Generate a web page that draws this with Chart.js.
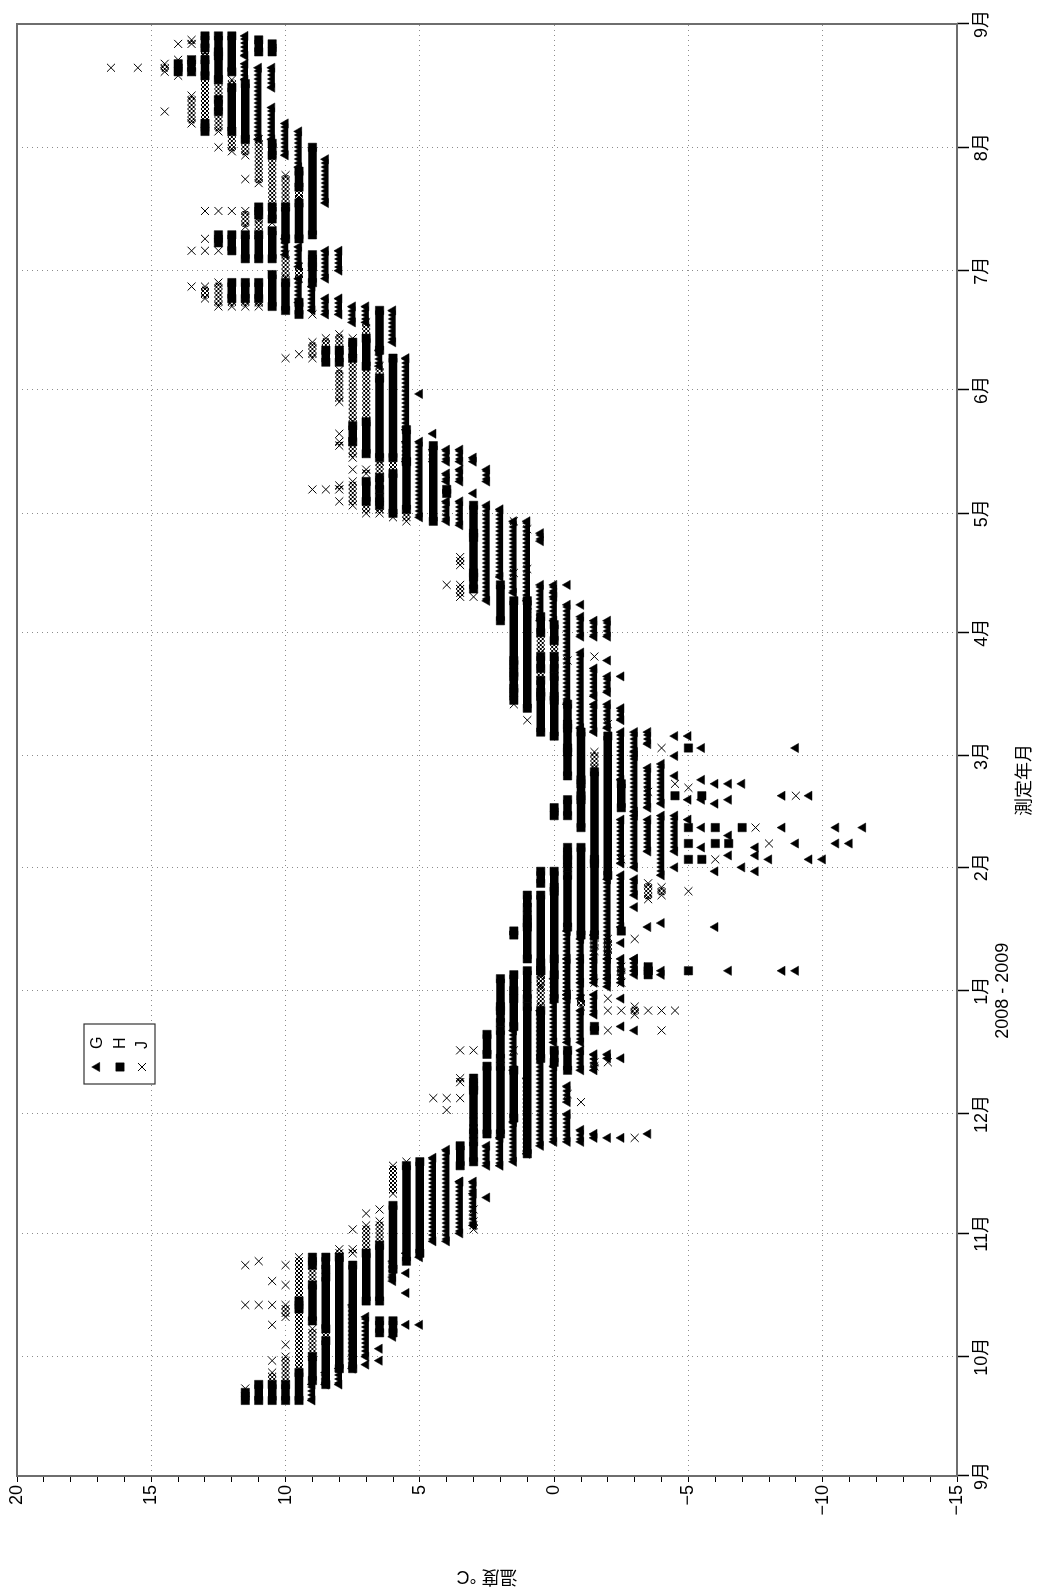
<!DOCTYPE html>
<html>
<head>
<meta charset="utf-8">
<script src="https://cdn.jsdelivr.net/npm/chart.js@4"></script>
<style>
  html, body { margin: 0; padding: 0; background: #fff; overflow: hidden; }
  /* the chart is drawn landscape and turned a quarter turn to the left */
  #wrap { position: absolute; left: 0; top: 0; width: 1589px; height: 1040px;
          transform-origin: 0 0; transform: translate(0, 1589px) rotate(-90deg); }
</style>
</head>
<body>
<div id="wrap"><canvas id="chart" width="1589" height="1040" style="width:1589px;height:1040px"></canvas></div>
<script>
// days counted from 2008-09-01
const monthDays = [0, 30, 61, 91, 122, 153, 181, 212, 242, 273, 303, 334, 365];
const monthLabels = ['9月', '10月', '11月', '12月', '1月', '2月', '3月', '4月', '5月', '6月', '7月', '8月', '9月'];
const yearLabel = '2008 - 2009';
const seriesNames = ['G', 'H', 'J'];

// runs of daily readings: [temperature °C, first day, last day]
const runsG = [
  [11.5,357,362],[11.5,351,355],[11,336,354],[10.5,349,354],[10.5,336,344],[10,332,340],[9.5,329,338],[8.5,320,331],
  [10,307,311],[9.5,304,309],[9.5,295,301],[9,293,299],[8.5,301,308],[8.5,292,296],[8,303,308],[8,292,296],
  [7.5,290,294],[7,290,294],[6.5,279,283],[6,285,293],[5.5,263,281],[5,272,272],[4.5,262,262],[4.5,255,258],
  [4,255,258],[3.5,255,258],[3,255,256],[5.5,255,260],[5,241,260],[4,250,252],[4,240,245],[3.5,250,253],
  [3.5,239,245],[3,247,247],[2.5,250,253],[2.5,220,244],[2,226,243],[1.5,222,240],[1,220,240],[0.5,235,237],
  [0.5,215,224],[0,222,224],[0,215,221],[-0.5,224,224],[-0.5,194,219],[-1,219,219],[-1,211,216],[-1,188,207],
  [-1.5,211,215],[-1.5,196,203],[-1.5,187,194],[-2,211,215],[-2,205,205],[-2,197,201],[-2,188,194],
  [-2.5,201,201],[-2.5,190,193],[-2.5,175,187],[-2.5,154,165],[-2.5,138,151],[-2.5,134,134],[-2.5,124,130],
  [-1.5,124,136],[-2,123,150],[-3,182,187],[-3,167,181],[-3,153,166],[-3,146,150],[-3,143,143],[-3,127,130],
  [-3.5,184,187],[-3.5,168,178],[-3.5,157,165],[-3.5,138,138],[-4,169,179],[-4,151,166],[-4,139,139],[-4,127,127],
  [-4.5,186,186],[-4.5,181,181],[-4.5,176,176],[-4.5,157,166],[-4.5,153,153],[-5,186,186],[-5,170,170],[-5,165,165],
  [-5.5,183,183],[-5.5,175,175],[-5.5,170,170],[-5.5,163,163],[-5.5,158,158],[-6,174,174],[-6,169,169],[-6,152,152],
  [-6,138,138],[-6.5,174,174],[-6.5,170,170],[-6.5,161,161],[-6.5,156,156],[-6.5,127,127],[-7,174,174],[-7,153,153],
  [-7.5,158,158],[-7.5,156,156],[-7.5,152,152],[-8,155,155],[-8.5,171,171],[-8.5,163,163],[-8.5,127,127],
  [-9,183,183],[-9,159,159],[-9,127,127],[-9.5,171,171],[-9.5,155,155],[-10,155,155],[-10.5,163,163],[-10.5,159,159],
  [-11,159,159],[-11.5,163,163],[-0.5,120,137],[-1,120,135],
  [6,49,54],[5.5,56,56],[5.5,51,51],[4.5,59,80],[4,59,82],[3.5,61,74],[3,63,74],[2.5,78,83],[2.5,70,70],[2,78,85],
  [1.5,102,112],[1.5,79,89],[1,81,100],[0.5,83,117],[0,109,125],[0,84,103],[-0.5,121,130],[-0.5,109,121],
  [-0.5,94,98],[-0.5,84,91],[-1,124,130],[-1,109,117],[-1,102,107],[-1,84,87],[-1.5,125,130],[-1.5,116,121],
  [-1.5,102,106],[-1.5,85,86],[-2,125,130],[-2,105,106],[-2,85,85],[-2.5,120,120],[-2.5,113,113],[-2.5,105,105],
  [-2.5,85,85],[-3,126,130],[-3,112,112],[-3.5,86,86],[-4,126,126],
  [9,19,23],[8.5,23,26],[8,23,27],[7.5,27,43],[7,30,40],[7,28,28],[6.5,32,32],[6.5,29,29],[6,50,50],[6,35,35],
  [5.5,46,46],[5.5,38,38],[5,55,55],[5,38,38],[3.5,74,74],[3,71,71]
];
const runsH = [
  [14,353,355],[13.5,353,356],[13,359,362],[13,352,356],[13,338,340],[12.5,358,362],[12.5,351,357],[12.5,343,346],
  [12.5,310,312],[12,353,362],[12,338,349],[12,308,312],[12,296,300],[11.5,336,350],[11.5,306,312],[11.5,296,300],
  [11,358,361],[11,317,319],[11,306,312],[11,296,300],[10.5,358,360],[10.5,332,335],[10.5,316,319],[10.5,306,313],
  [10.5,294,302],[10,311,319],[10,293,300],[9.5,324,328],[9.5,311,320],[9.5,292,295],[9,312,334],[9,305,307],
  [9,300,304],[8.5,280,283],[8,280,283],[7.5,281,285],[7.5,260,264],[7,279,286],[7,257,265],[6.5,283,293],
  [6.5,256,276],[6,256,281],[5.5,255,263],[7,245,250],[6.5,248,251],[6.5,244,246],[6,242,252],[5.5,243,255],
  [4.5,240,259],[4,247,248],[3,237,244],[3,227,236],[3,223,226],[2,215,224],[1.5,205,220],[1.5,202,204],
  [1.5,198,201],[1.5,195,197],[1,193,220],[0.5,212,216],[0.5,203,206],[0.5,197,200],[0.5,187,196],[0,210,214],
  [0,203,206],[0,196,201],[0,186,195],[-0.5,189,194],[-0.5,183,188],[-0.5,176,182],[-0.5,166,170],[-0.5,156,158],
  [-1,175,187],[-1,171,174],[-1,163,170],[-1.5,155,177],
  [1.5,136,137],[1.5,120,126],[1,143,146],[1,139,141],[1,130,138],[1,120,127],[0.5,149,152],[0.5,127,146],
  [0,166,168],[0,148,152],[0,120,147],[-0.5,153,155],[-0.5,138,151],[-1,136,158],[-1.5,136,154],[-2,151,186],
  [-2.5,168,174],[-2.5,137,137],[-3.5,126,128],[-4.5,171,171],[-5,183,183],[-5,163,163],[-5,159,159],[-5,155,155],
  [-5,127,127],[-5.5,171,171],[-5.5,155,155],[-6,163,163],[-6,159,159],[-6.5,159,159],[-7,163,163],
  [6,52,68],[5.5,54,78],[5,56,79],[3.5,78,83],[3,98,100],[3,86,97],[3,79,84],[2.5,106,111],[2.5,86,103],
  [2,118,125],[2,114,117],[2,105,112],[2,86,103],[1.5,113,122],[1.5,90,102],[1,81,118],[0.5,127,129],[0.5,105,117],
  [0,126,130],[0,104,107],[-0.5,102,107],[-1.5,112,113],[-3.5,127,127],
  [11.5,19,21],[11,19,23],[10.5,19,23],[10,19,23],[9.5,42,44],[9.5,19,26],[9,53,55],[9,39,48],[9,24,30],
  [8.5,52,55],[8.5,37,50],[8.5,23,34],[8,27,55],[7.5,27,53],[7,44,56],[6.5,44,58],[6.5,36,39],[6,36,39]
];
const runsJ = [
  [16.5,354,354],[15.5,354,354],[14.5,353,355],[14.5,343,343],[14,360,360],[14,352,356],[13.5,360,361],[13.5,353,356],
  [13.5,340,347],[13.5,308,308],[13.5,299,299],[13,357,358],[13,340,352],[13,318,318],[13,311,311],[13,308,308],
  [13,296,299],[12.5,338,351],[12.5,334,334],[12.5,318,318],[12.5,308,308],[12.5,294,300],[12,349,351],[12,333,338],
  [12,318,318],[12,294,296],[11.5,332,336],[11.5,326,326],[11.5,314,318],[11.5,294,296],[11,325,336],[11,312,316],
  [11,294,295],[10.5,319,332],[10.5,315,315],[10,319,327],[10,301,307],[10,281,281],[9.5,321,324],[9.5,301,304],
  [9.5,282,282],[9,292,292],[9,281,285],[8.5,283,286],[8,283,287],[8,270,278],[8,262,262],[7.5,283,286],
  [7.5,265,281],[7.5,256,260],[7,286,290],[7,265,279],[7,257,257],[6.5,276,279],
  [9,248,248],[8.5,248,248],[8,259,260],[8,248,249],[8,245,245],[7.5,253,253],[7.5,244,250],[7,252,253],
  [7,242,245],[6.5,251,255],[6.5,242,243],[6,252,256],[6,241,241],[5.5,240,243],[4,224,224],[3.5,229,231],
  [3.5,221,224],[3,236,236],[3,221,221],[1.5,240,240],[1.5,227,227],[1.5,194,194],[1,238,238],[1,228,228],
  [1,217,219],[1,190,190],[0.5,207,212],[0.5,200,203],[0,206,210],[0,200,203],[-0.5,189,189],[-1.5,206,206],
  [-1.5,178,182],
  [1,123,123],[0.5,123,126],[-0.5,205,205],[-1.5,132,136],[-1.5,124,124],[-2,189,189],[-2,131,135],[-2.5,155,155],
  [-2.5,124,124],[-3,135,135],[-3.5,172,172],[-3.5,145,149],[-3.5,128,128],[-4,183,183],[-4,146,148],[-4.5,174,174],
  [-5,173,173],[-5,147,147],[-6,155,155],[-7.5,163,163],[-8,159,159],[-9,171,171],
  [6,71,78],[5.5,79,79],[4.5,95,95],[4,95,95],[4,92,92],[3.5,107,107],[3.5,99,100],[3.5,95,95],[3,107,107],
  [3,86,89],[3,67,67],[1.5,107,107],[0.5,118,126],[-0.5,96,96],[-1,118,120],[-1,94,94],[-1.5,103,104],
  [-2,120,120],[-2,117,117],[-2,112,112],[-2,104,104],[-2.5,126,128],[-2.5,117,117],[-3,116,118],[-3,85,85],
  [-3.5,117,117],[-4,117,117],[-4,112,112],[-4.5,117,117],
  [11.5,53,53],[11.5,43,43],[11.5,22,22],[11,54,54],[11,43,43],[10.5,49,49],[10.5,43,43],[10.5,38,38],
  [10.5,29,29],[10.5,23,26],[10,53,53],[10,48,48],[10,40,43],[10,33,33],[10,23,30],[9.5,27,55],[9,48,53],
  [9,30,37],[8.5,33,37],[8,55,57],[7.5,62,62],[7.5,56,57],[7,66,66],[7,56,63],[6.5,67,67],[6.5,58,64],[3,62,64]
];

const FONT = '"Liberation Sans", Arial, "Noto Sans CJK JP", sans-serif';
Chart.defaults.font.family = FONT;
Chart.defaults.font.size = 18;
Chart.defaults.color = '#000';

// each run becomes two points joined by a line, then a gap
function toPoints(runs) {
  const out = [];
  runs.forEach(([t, d0, d1]) => {
    out.push({ x: d0, y: t });
    if (d1 !== d0) out.push({ x: d1, y: t });
    out.push({ x: d1, y: null });
  });
  return out;
}

// fill patterns that look like stacked markers
const tileCache = {};
function tilePattern(kind, y) {
  const h = kind === 'G' ? 16 : 8;
  const top = kind === 'G' ? y - 5.33 : y - 4;
  const off = ((top % h) + h) % h;
  const key = kind + off.toFixed(2);
  if (tileCache[key]) return tileCache[key];
  const c = document.createElement('canvas');
  c.width = 4; c.height = h;
  const g = c.getContext('2d');
  g.fillStyle = '#000'; g.strokeStyle = '#000'; g.lineWidth = 1;
  g.beginPath();
  if (kind === 'G') {
    g.moveTo(0, 3.46); g.lineTo(2, 0); g.lineTo(4, 3.46); g.lineTo(4, 8); g.lineTo(0, 8); g.closePath();
    g.fill();
  } else {
    [-4, 0, 4].forEach(s => { g.moveTo(s, 0); g.lineTo(s + 8, 8); g.moveTo(s, 8); g.lineTo(s + 8, 0); });
    g.stroke();
  }
  const p = g.createPattern(c, 'repeat');
  p.setTransform(new DOMMatrix().translate(0, off));
  tileCache[key] = p;
  return p;
}

const markers = {
  G: { pointStyle: 'triangle', radius: 5.33, border: 0.5, lineWidth: 10.66 },
  H: { pointStyle: 'rect', radius: 5.9, border: 0.5, lineWidth: 8.5 },
  J: { pointStyle: 'crossRot', radius: 5.66, border: 1, lineWidth: 8 }
};

function makeDataset(name, runs) {
  const m = markers[name];
  const ds = {
    label: name,
    data: toPoints(runs),
    showLine: true,
    spanGaps: false,
    borderColor: '#000',
    borderWidth: m.lineWidth,
    pointStyle: m.pointStyle,
    pointRadius: m.radius,
    pointBorderWidth: m.border,
    pointBackgroundColor: '#000',
    pointBorderColor: '#000'
  };
  if (name !== 'H') ds.segment = { borderColor: c => tilePattern(name, c.p0.y) };
  return ds;
}

const framePlugin = {
  id: 'frame',
  afterDatasetsDraw(chart) {
    const { ctx, chartArea: a } = chart;
    ctx.save();
    ctx.strokeStyle = '#6e6e6e';
    ctx.lineWidth = 2;
    ctx.strokeRect(a.left, a.top, a.right - a.left, a.bottom - a.top);
    ctx.restore();
  }
};

const legendPlugin = {
  id: 'boxLegend',
  afterDraw(chart) {
    const ctx = chart.ctx;
    ctx.save();
    ctx.fillStyle = '#fff';
    ctx.fillRect(505, 84, 60, 71);
    ctx.strokeStyle = '#333';
    ctx.lineWidth = 1.2;
    ctx.strokeRect(505, 84, 60, 71);
    const rows = [97, 120, 142];
    seriesNames.forEach((n, i) => {
      const m = markers[n];
      ctx.fillStyle = '#000'; ctx.strokeStyle = '#000';
      ctx.lineWidth = m.border;
      Chart.helpers.drawPoint(ctx, { pointStyle: m.pointStyle, radius: m.radius, borderWidth: m.border, rotation: 0 }, 522, rows[i]);
      ctx.font = '16px ' + FONT;
      ctx.textBaseline = 'middle';
      ctx.textAlign = 'left';
      ctx.fillText(n, 540, rows[i] + 1);
    });
    ctx.restore();
  }
};

const titlePlugin = {
  id: 'axisTitles',
  afterDraw(chart) {
    const ctx = chart.ctx;
    const a = chart.chartArea;
    ctx.save();
    ctx.fillStyle = '#000';
    ctx.font = '18px ' + FONT;
    ctx.textAlign = 'center';
    ctx.textBaseline = 'middle';
    ctx.fillText('測定年月', 809, 1025);
    ctx.translate(13, (a.top + a.bottom) / 2);
    ctx.rotate(-Math.PI / 2);
    ctx.fillText('温度 °C', 0, 0);
    ctx.restore();
  }
};

new Chart(document.getElementById('chart'), {
  type: 'scatter',
  data: {
    datasets: [makeDataset('G', runsG), makeDataset('H', runsH), makeDataset('J', runsJ)]
  },
  options: {
    responsive: false,
    animation: false,
    devicePixelRatio: 1,
    events: [],
    layout: { padding: { left: 0, right: 24, top: 17, bottom: 0 } },
    plugins: { legend: { display: false }, tooltip: { enabled: false } },
    scales: {
      x: {
        type: 'linear',
        min: 0,
        max: 365,
        afterBuildTicks: axis => { axis.ticks = monthDays.map(v => ({ value: v })); },
        afterFit: axis => { axis.height = 83; },
        ticks: {
          autoSkip: false,
          maxRotation: 0,
          padding: 2,
          callback: (v, i) => (i === 4 ? [monthLabels[i], yearLabel] : monthLabels[i])
        },
        grid: { color: '#8c8c8c', lineWidth: 1, tickLength: 12, tickColor: '#000', tickWidth: 1.5 },
        border: { display: false, dash: [1, 4] }
      },
      y: {
        type: 'linear',
        min: -15,
        max: 20,
        afterFit: axis => { axis.width = 113; },
        ticks: {
          stepSize: 1,
          autoSkip: false,
          padding: 3,
          callback: v => (v % 5 === 0 ? (v < 0 ? '\u2212' + Math.abs(v) : String(v)) : '')
        },
        grid: {
          color: c => (c.tick && c.tick.value % 5 === 0 ? '#8c8c8c' : 'rgba(0,0,0,0)'),
          lineWidth: 1,
          tickLength: 6,
          tickColor: '#000',
          tickWidth: 1
        },
        border: { display: false, dash: [1, 4] }
      }
    }
  },
  plugins: [framePlugin, legendPlugin, titlePlugin]
});
</script>
</body>
</html>
